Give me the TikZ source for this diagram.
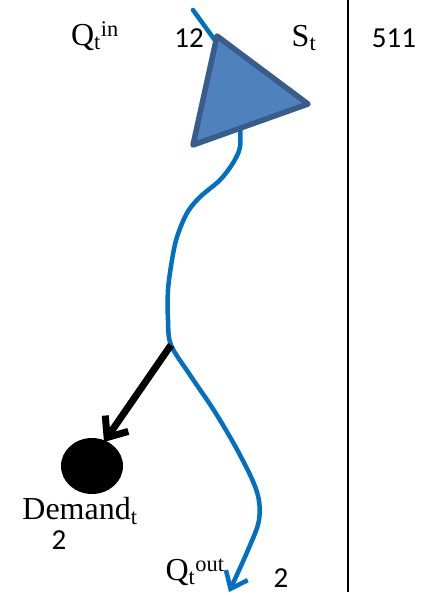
\documentclass[tikz,border=0pt]{standalone}
\usepackage{fontspec}
\setmainfont{Liberation Serif}
\newfontfamily\numfont{Carlito}
\usetikzlibrary{arrows.meta, shapes.geometric}
\definecolor{RiverBlue}{HTML}{0070C0}
\definecolor{ResFill}  {HTML}{4F81BD}
\definecolor{ResEdge}  {HTML}{385D8A}
\tikzset{
  river/.style={draw=RiverBlue, line width=4.5pt, line cap=round},
  flow arrow/.style={-{Straight Barb[length=15pt,width=24pt,line width=4.5pt]}},
  take arrow/.style={-{Straight Barb[length=17pt,width=28pt,line width=7pt]}, line width=7pt},
}

\begin{document}
\begin{tikzpicture}[x=1pt, y=-1pt,
    lbl/.style={font=\fontsize{32}{34}\selectfont, inner sep=0pt},
    num/.style={font=\numfont\fontsize{29}{31}\selectfont, inner sep=0pt},
    sink/.style={ellipse, fill=black, minimum width=62pt, minimum height=56pt, inner sep=0pt}]
  \useasboundingbox (0,0) rectangle (436,595);
  % River and reservoir
  \coordinate (top)   at (193,10);
  \coordinate (split) at (171,345);
  \coordinate (mouth) at (229,592);
  \draw[river] (top) -- (222,50);
  \draw[river, flow arrow] plot[smooth, tension=0.55] coordinates
    {(240,125) (240,147) (233,163) (220,180) (200,197) (187,213) (177,237)
     (172,260) (168,290) (168,320) (171,345)
     (190,375) (215,412) (240,455) (257,492) (259,520) (248,550) (229,592)};
  \draw[ResEdge, fill=ResFill, line width=5.5pt, line join=round]
    (217,36) coordinate (res) -- (308,104) -- (193,145) -- cycle;
  % Demand
  \node[sink] (demand) at (92,466) {};
  \draw[take arrow] (split) -- (104,442);
  % Labels
  \node[lbl] (qin)  at (95,36)  {Q\textsubscript{t}\textsuperscript{in}};
  \node[num] (qinv) at (189,38) {12};
  \node[lbl] (st)   at (304,38) {S\textsubscript{t}};
  \node[num] (stv)  at (394,38) {511};
  \node[lbl] (dem)  at (80,511) {Demand\textsubscript{t}};
  \node[num] (demv) at (59,540) {2};
  \node[lbl] (qout) at (195,572) {Q\textsubscript{t}\textsuperscript{out}};
  \node[num] (qoutv) at (281,578) {2};
  % Divider
  \draw[line width=2.5pt] (348,0) -- (348,592);
\end{tikzpicture}
\end{document}
